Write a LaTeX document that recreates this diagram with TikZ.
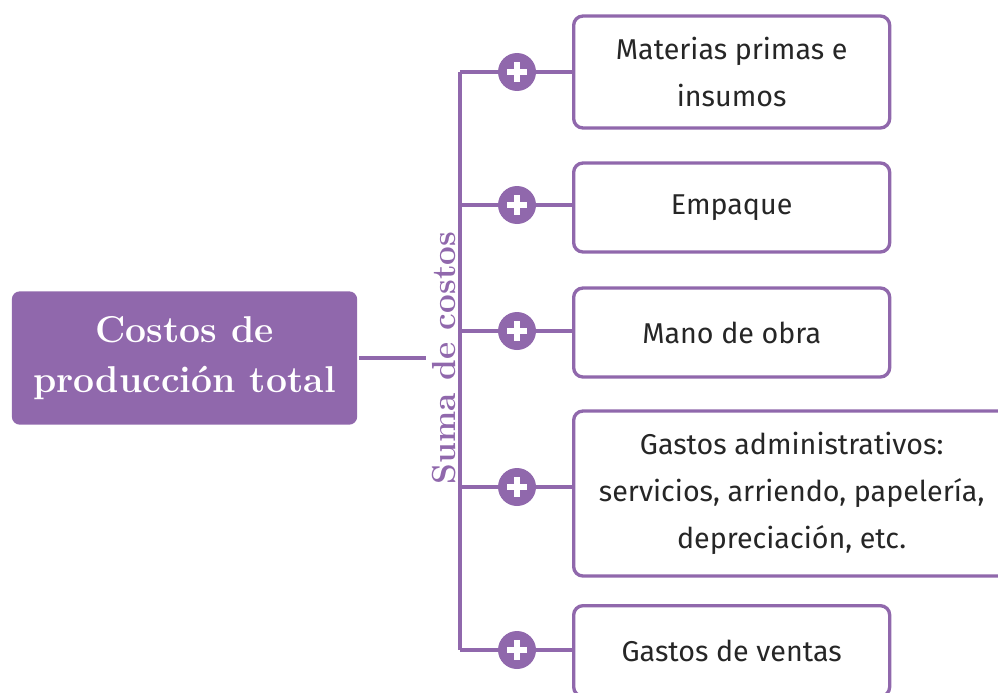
\documentclass[tikz,border=0pt]{standalone}
\usepackage{fontspec}
\newfontfamily\boxfont{Fira Sans}
\usetikzlibrary{positioning,calc}

\definecolor{lila}{HTML}{9068AC}
\definecolor{tinta}{HTML}{262626}

\begin{document}
\begin{tikzpicture}[
        x=0.75pt,y=-0.75pt,
        line width=2.5pt, color=lila
    ]

    \tikzstyle{titlebox} = [rectangle,rounded corners=6pt,fill=lila,draw=none,
        text=white,align=center,font=\fontsize{28}{38}\selectfont\bfseries,
        minimum width=259pt,minimum height=100pt]
    \tikzstyle{itembox} = [rectangle,rounded corners=7pt,draw=lila,fill=white,
        text=tinta,align=center,font=\boxfont\fontsize{21.5}{35}\selectfont,
        minimum width=237pt,anchor=west]
    \tikzstyle{plusdot} = [circle,fill=lila,draw=none,minimum size=28.5pt,
        inner sep=0pt,
        path picture={
            \draw[white,line width=5pt] ($(path picture bounding box.center)+(-10,0)$) -- ($(path picture bounding box.center)+(10,0)$);
            \draw[white,line width=5pt] ($(path picture bounding box.center)+(0,-10)$) -- ($(path picture bounding box.center)+(0,10)$);
        }]

    \clip (0,0) rectangle (998,692);
    \useasboundingbox (0,0) rectangle (998,692);

    \node[titlebox] (total) at (184.5,358) {Costos de\\producción total};
    \node[rotate=90,text=lila,font=\fontsize{25}{25}\selectfont\bfseries] (suma) at (444,358) {Suma de costos};
    \coordinate (bustop) at (460,72);
    \coordinate (busbot) at (460,650);

    % casillas de la derecha
    \node[itembox,minimum height=84pt] (mp) at (572,72) {Materias primas e\\insumos};
    \node[itembox,minimum height=66.75pt] (emp) at (572,207.5) {Empaque};
    \node[itembox,minimum height=66.75pt] (mo) at (572,332.5) {Mano de obra};
    \node[itembox,minimum width=327pt,minimum height=123.75pt] (adm) at (572,493.5) {Gastos administrativos:\\servicios, arriendo, papelería,\\depreciación, etc.};
    \node[itembox,minimum height=68pt] (ven) at (572,651) {Gastos de ventas};

    \draw (total.east) -- (suma.north);
    \draw (bustop) -- (busbot);
    \foreach \item/\y in {mp/72,emp/205,mo/331,adm/487,ven/650} {
        \draw (460,\y) -- (\item.west |- 0,\y);
        \node[plusdot] (plus-\item) at (517,\y) {};
    }

\end{tikzpicture}
\end{document}
